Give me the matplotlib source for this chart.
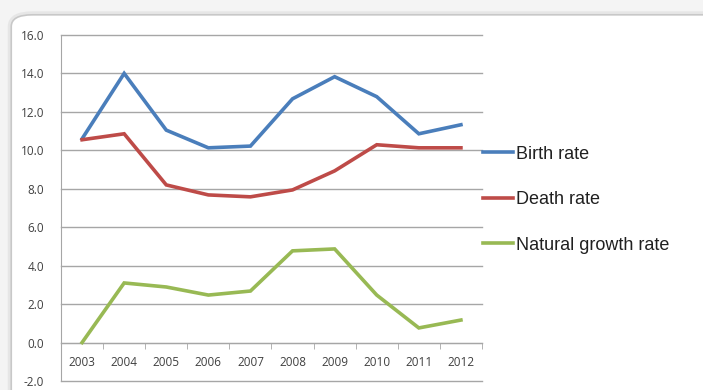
import matplotlib
matplotlib.use("Agg")
import matplotlib.pyplot as plt
from matplotlib.patches import FancyBboxPatch

# data
years = ['2003', '2004', '2005', '2006', '2007', '2008', '2009', '2010', '2011', '2012']
birth_rate = [10.6, 14.0, 11.05, 10.13, 10.22, 12.68, 13.83, 12.79, 10.86, 11.33]
death_rate = [10.55, 10.86, 8.2, 7.68, 7.58, 7.94, 8.93, 10.29, 10.13, 10.13]
growth_rate = [0.0, 3.1, 2.89, 2.47, 2.68, 4.77, 4.87, 2.47, 0.76, 1.17]
series_names = ['Birth rate', 'Death rate', 'Natural growth rate']
yticks = [-2, 0, 2, 4, 6, 8, 10, 12, 14, 16]


def draw_frame(fig):
  # rounded panel with a soft border like the screenshot
  shadow = FancyBboxPatch((0.016, -0.05), 1.02, 1.012, boxstyle="round,pad=0,rounding_size=0.03",
                          transform=fig.transFigure, facecolor='none', edgecolor='#e6e6e6',
                          linewidth=5, zorder=0)
  box = FancyBboxPatch((0.016, -0.05), 1.02, 1.012, boxstyle="round,pad=0,rounding_size=0.03",
                       transform=fig.transFigure, facecolor='white', edgecolor='#c8c8c8',
                       linewidth=1.2, zorder=0)
  fig.patches.extend([shadow, box])


fig = plt.figure(figsize=(7.03, 3.90), dpi=100)
fig.patch.set_facecolor('#f4f4f4')
draw_frame(fig)

ax = fig.add_axes([0.0868, 0.0231, 0.5988, 0.8872])
ax.set_zorder(2)
ax.patch.set_alpha(0)

x = list(range(len(years)))
colors = ['#4a7ebb', '#be4b48', '#98b954']
for values, name, c in zip([birth_rate, death_rate, growth_rate], series_names, colors):
  ax.plot(x, values, '-', color=c, linewidth=2.6, label=name, solid_joinstyle='miter', zorder=3)

ax.set_xlim(-0.5, len(years) - 0.5)
ax.set_ylim(-2, 16)
ax.set_yticks(yticks)
ax.set_yticklabels(['%.1f' % v for v in yticks], fontsize=8.5, color='#404040', family='Open Sans')
ax.yaxis.grid(True, color='#a6a6a6', linewidth=1.0, zorder=1)
for gl in ax.get_ygridlines():
  gl.set_clip_on(False)
ax.tick_params(axis='y', length=0, pad=12)

ax.spines['top'].set_visible(False)
ax.spines['right'].set_visible(False)
ax.spines['left'].set_color('#a6a6a6')
ax.spines['bottom'].set_position(('data', 0))
ax.spines['bottom'].set_color('#a6a6a6')

ax.set_xticks(x)
ax.set_xticklabels(years, fontsize=8.5, color='#404040', family='Open Sans')
ax.set_xticks([i - 0.5 for i in range(len(years) + 1)], minor=True)
ax.tick_params(axis='x', which='major', length=0, pad=10)
ax.tick_params(axis='x', which='minor', length=4, direction='out', color='#a6a6a6')

leg = fig.legend(loc='upper left', bbox_to_anchor=(0.664, 0.668), frameon=False,
                 prop={'family': 'Liberation Sans', 'size': 13},
                 handlelength=1.65, handletextpad=0.15, labelspacing=1.58)
leg.set_zorder(3)
for t in leg.get_texts():
  t.set_color('#202020')

fig.savefig('out.png', dpi=100, facecolor=fig.get_facecolor())
